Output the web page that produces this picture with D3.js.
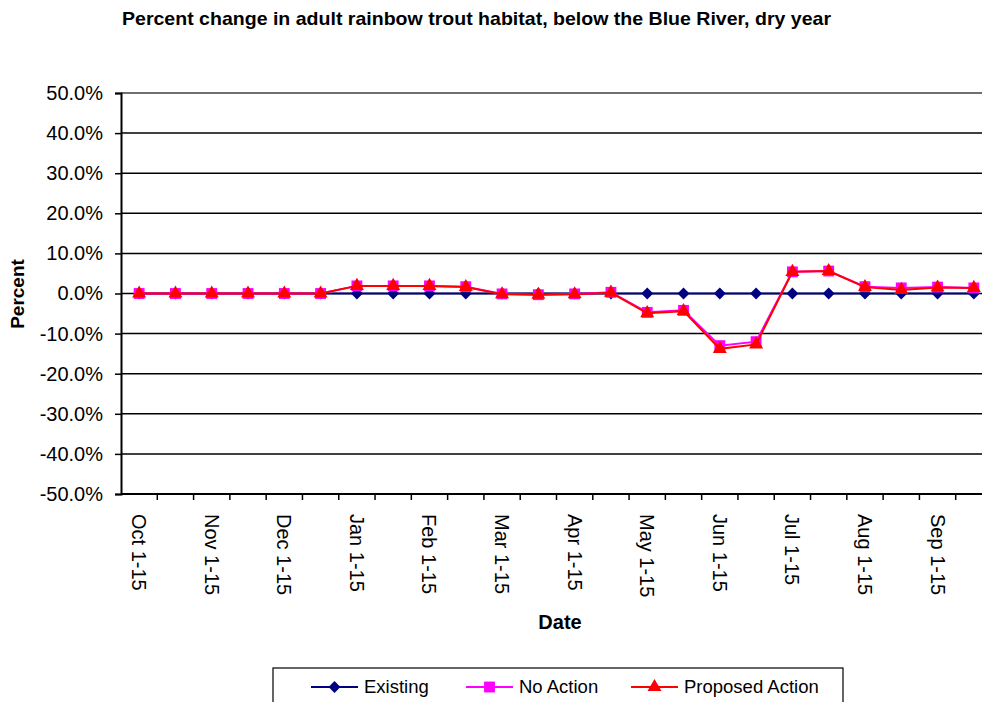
<!DOCTYPE html>
<html>
<head>
<meta charset="utf-8">
<script src="https://cdn.jsdelivr.net/npm/d3@7/dist/d3.min.js"></script>
<style>
  html, body { margin: 0; padding: 0; background: #fff; }
  svg { display: block; font-family: Arial, "Liberation Sans", sans-serif; }
</style>
</head>
<body>
<svg id="chart" width="982" height="702"></svg>
<script>
const categories = ["Oct 1-15","Oct 16-31","Nov 1-15","Nov 16-30","Dec 1-15","Dec 16-31",
  "Jan 1-15","Jan 16-31","Feb 1-15","Feb 16-28","Mar 1-15","Mar 16-31",
  "Apr 1-15","Apr 16-30","May 1-15","May 16-31","Jun 1-15","Jun 16-30",
  "Jul 1-15","Jul 16-31","Aug 1-15","Aug 16-31","Sep 1-15","Sep 16-30"];
const existing = [0,0,0,0,0,0,0,0,0,0,0,0,0,0,0,0,0,0,0,0,0,0,0,0];
const noAction = [0,0,0,0,0,0,1.9,1.9,1.9,1.7,-0.1,-0.3,-0.1,0.3,-4.7,-4.2,-13.0,-12.0,5.4,5.6,1.7,1.4,1.6,1.4];
const proposedAction = [0,0,0,0,0,0,1.9,1.9,1.9,1.6,-0.2,-0.3,-0.2,0.2,-4.9,-4.4,-13.8,-12.7,5.4,5.6,1.6,0.9,1.5,1.4];
const yTicks = [-50,-40,-30,-20,-10,0,10,20,30,40,50];
const seriesNames = ["Existing","No Action","Proposed Action"];

const svg = d3.select("#chart");
const mLeft = 121, mRight = 992, mTop = 93, mBottom = 494;

const x = d3.scaleBand().domain(categories).range([mLeft, mRight]).padding(0);
const y = d3.scaleLinear().domain([-50, 50]).range([mBottom, mTop]);

// Title
svg.append("text")
  .attr("x", 476.5).attr("y", 25)
  .attr("text-anchor", "middle")
  .attr("font-size", 19).attr("font-weight", "bold")
  .attr("textLength", 709).attr("lengthAdjust", "spacingAndGlyphs")
  .text("Percent change in adult rainbow trout habitat, below the Blue River, dry year");

// Gridlines
svg.append("g").selectAll("line").data(yTicks).join("line")
  .attr("x1", mLeft).attr("x2", mRight)
  .attr("y1", d => y(d)).attr("y2", d => y(d))
  .attr("stroke", "#000").attr("stroke-width", 1.5);

// Plot border top (gray)
svg.append("line").attr("x1", mLeft).attr("x2", mRight).attr("y1", mTop).attr("y2", mTop)
  .attr("stroke", "#808080").attr("stroke-width", 1.5);

// Y axis
const pctFmt = d => (d < 0 ? "-" : "") + Math.abs(d).toFixed(1) + "%";
const yAxis = d3.axisLeft(y).tickValues(yTicks).tickSize(6).tickPadding(12)
  .tickFormat(pctFmt);
const gy = svg.append("g").attr("transform", `translate(${mLeft},0)`).call(yAxis);
gy.select(".domain").attr("stroke", "#000").attr("stroke-width", 2);
gy.selectAll(".tick line").attr("stroke", "#000").attr("stroke-width", 1.5);
gy.selectAll(".tick text").attr("font-size", 20).attr("fill", "#000")
  .attr("font-family", "Arial, 'Liberation Sans', sans-serif");

// X axis: ticks at category boundaries
const xg = svg.append("g");
xg.append("line").attr("x1", mLeft).attr("x2", mRight).attr("y1", mBottom).attr("y2", mBottom)
  .attr("stroke", "#000").attr("stroke-width", 2);
xg.selectAll("line.tk").data(categories).join("line").attr("class", "tk")
  .attr("x1", d => x(d) + x.bandwidth()).attr("x2", d => x(d) + x.bandwidth())
  .attr("y1", mBottom).attr("y2", mBottom + 6)
  .attr("stroke", "#000").attr("stroke-width", 1.5);
xg.selectAll("text").data(categories.filter((d, i) => i % 2 === 0)).join("text")
  .attr("transform", d => `translate(${x(d) + x.bandwidth() / 2},${mBottom + 20}) rotate(90)`)
  .attr("dy", "0.35em")
  .attr("text-anchor", "start")
  .attr("font-size", 20)
  .text(d => d);

// Axis titles
svg.append("text").attr("x", 560).attr("y", 629).attr("text-anchor", "middle")
  .attr("font-size", 20).attr("font-weight", "bold").text("Date");
svg.append("text").attr("transform", "translate(24,294) rotate(-90)")
  .attr("text-anchor", "middle").attr("font-size", 19).attr("font-weight", "bold").text("Percent");

const cx = (d, i) => x(categories[i]) + x.bandwidth() / 2;
const line = d3.line().x((d, i) => cx(d, i)).y(d => y(d));

const diamond = d3.symbol().type(d3.symbolDiamond2).size(90);
const square = d3.symbol().type(d3.symbolSquare2).size(150);
const triangle = d3.symbol().type(d3.symbolTriangle2).size(140);

function drawSeries(vals, color, sym, fill) {
  const g = svg.append("g");
  g.append("path").datum(vals).attr("d", line).attr("fill", "none")
    .attr("stroke", color).attr("stroke-width", 2);
  g.selectAll("path.m").data(vals).join("path").attr("class", "m")
    .attr("transform", (d, i) => `translate(${cx(d, i)},${y(d)})`)
    .attr("d", sym).attr("fill", fill).attr("stroke", "none");
}
drawSeries(existing, "#000080", diamond, "#000080");
drawSeries(noAction, "#FF00FF", square, "#FF00FF");
drawSeries(proposedAction, "#FF0000", triangle, "#FF0000");

// Legend
const lg = svg.append("g");
lg.append("rect").attr("x", 273).attr("y", 668).attr("width", 570).attr("height", 50)
  .attr("fill", "#fff").attr("stroke", "#000").attr("stroke-width", 1.2);
const legendItems = [
  {name: seriesNames[0], color: "#000080", sym: diamond, lx: 311},
  {name: seriesNames[1], color: "#FF00FF", sym: square, lx: 466},
  {name: seriesNames[2], color: "#FF0000", sym: triangle, lx: 631}
];
const ly = 687;
legendItems.forEach(it => {
  lg.append("line").attr("x1", it.lx).attr("x2", it.lx + 47).attr("y1", ly).attr("y2", ly)
    .attr("stroke", it.color).attr("stroke-width", 2);
  lg.append("path").attr("d", it.sym).attr("transform", `translate(${it.lx + 23.5},${ly})`)
    .attr("fill", it.color);
  lg.append("text").attr("x", it.lx + 53).attr("y", ly).attr("dy", "0.35em")
    .attr("font-size", 18.5).text(it.name);
});
</script>
</body>
</html>
